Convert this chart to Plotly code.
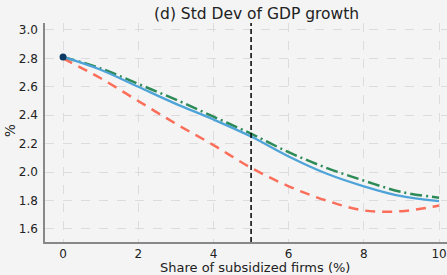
import plotly.graph_objects as go

x_vals = [0, 1, 2, 3, 4, 5, 6, 7, 8, 9, 10]
blue_vals = [2.81, 2.72, 2.60, 2.48, 2.37, 2.25, 2.11, 1.99, 1.90, 1.83, 1.795]
green_vals = [2.81, 2.73, 2.62, 2.51, 2.39, 2.27, 2.14, 2.03, 1.94, 1.86, 1.82]
red_vals = [2.80, 2.66, 2.50, 2.34, 2.19, 2.03, 1.90, 1.80, 1.73, 1.725, 1.765]
marker_x = [0]
marker_y = [2.81]
vline_x = 5
title_text = "(d) Std Dev of GDP growth"
x_title = "Share of subsidized firms (%)"
y_title = "%"

W, H = 447, 275
L, R, T, B = 45, 0, 23, 33

fig = go.Figure()
fig.add_trace(go.Scatter(x=x_vals, y=red_vals, mode="lines", line=dict(color="#fa6e5a", width=2.5, dash="10px,7px", shape="spline"), showlegend=False))
fig.add_trace(go.Scatter(x=x_vals, y=green_vals, mode="lines", line=dict(color="#2e8b57", width=2.5, dash="12px,4px,2px,4px", shape="spline"), showlegend=False))
fig.add_trace(go.Scatter(x=x_vals, y=blue_vals, mode="lines", line=dict(color="#4ea3d8", width=2.3, shape="spline"), showlegend=False))
fig.add_trace(go.Scatter(x=marker_x, y=marker_y, mode="markers", marker=dict(color="#0d3a63", size=7), showlegend=False))
fig.add_shape(type="line", x0=vline_x, x1=vline_x, y0=0, y1=1, yref="paper", line=dict(color="black", width=1.5, dash="5px,3px"))

def px_x(p):
    return (p - L) / (W - L - R)

def px_y(p):
    return (H - B - p) / (H - T - B)

fig.add_annotation(text=title_text, x=px_x(256), y=px_y(14), xref="paper", yref="paper", borderpad=0,
                   showarrow=False, xanchor="center", yanchor="middle", font=dict(size=15.5, color="#222"))
fig.add_annotation(text=x_title, x=px_x(255), y=px_y(267), xref="paper", yref="paper", borderpad=0,
                   showarrow=False, xanchor="center", yanchor="middle", font=dict(size=13, color="#222"))
fig.add_annotation(text=y_title, x=px_x(10), y=px_y(131), xref="paper", yref="paper", textangle=-90, borderpad=0,
                   showarrow=False, xanchor="center", yanchor="middle", font=dict(size=13.5, color="#222"))

fig.update_layout(
    width=W, height=H,
    margin=dict(l=L, r=R, t=T, b=B),
    paper_bgcolor="#f4f4f4", plot_bgcolor="#f4f4f4",
    font=dict(family="DejaVu Sans", size=12, color="#222"),
)
fig.update_xaxes(range=[-0.48, 10.21], tickvals=[0, 2, 4, 6, 8, 10], showline=True, linecolor="#888", linewidth=1.5,
                 showgrid=True, gridcolor="#dcdcdc", griddash="dash", gridwidth=1, zeroline=False,
                 automargin=False, ticks="", ticklabelstandoff=0, ticklabeloverflow="allow")
fig.update_yaxes(range=[1.508, 3.049], tickvals=[1.6, 1.8, 2.0, 2.2, 2.4, 2.6, 2.8, 3.0], tickformat=".1f",
                 showline=True, linecolor="#888", linewidth=1.5,
                 showgrid=True, gridcolor="#dcdcdc", griddash="dash", gridwidth=1, zeroline=False,
                 automargin=False, ticks="", ticklabelstandoff=3, ticklabeloverflow="allow")

fig.write_html("out.html", config={"displayModeBar": False},
               post_script="document.body.style.margin='0';document.body.style.background='#f4f4f4';")
